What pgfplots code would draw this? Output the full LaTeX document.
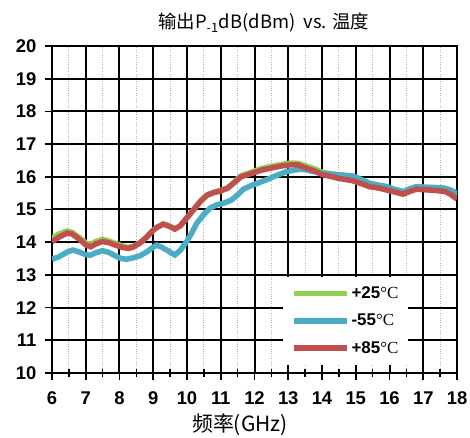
\documentclass[border=0pt]{standalone}
\usepackage{fontspec}
\setmainfont{Liberation Sans}
\newfontfamily\cjk{Noto Sans CJK SC}
\newfontfamily\serifC{Liberation Serif}
\usepackage{pgfplots}
\pgfplotsset{compat=1.18}
\definecolor{cgreen}{RGB}{146,208,80}
\definecolor{cblue}{RGB}{75,172,198}
\definecolor{cred}{RGB}{192,80,77}
\begin{document}
\begin{tikzpicture}
\useasboundingbox (-52bp,-65bp) rectangle (418bp,373bp);
\begin{axis}[
  at={(0,0)}, anchor=south west,
  scale only axis, width=405bp, height=327bp,
  xmin=6, xmax=18, ymin=10, ymax=20,
  xtick={6,...,18}, ytick={10,...,20},
  minor x tick num=1,
  xmajorgrids, ymajorgrids, xminorgrids,
  major grid style={black, line width=2bp},
  minor grid style={gray!60, dotted, line width=1bp},
  axis line style={black, line width=2bp},
  tick pos=left,
  tick align=center,
  major tick length=14bp,
  minor tick length=8bp,
  every tick/.style={black, line width=1.7bp},
  /pgf/number format/assume math mode=true,
  tick label style={font=\bfseries\fontsize{18.5}{20}\selectfont},
  xticklabel style={yshift=-8bp},
  yticklabel style={xshift=-5bp},
  title={\cjk 输出P\textsubscript{-1}dB(dBm)\ \ vs. 温度},
  title style={font=\fontsize{18.5}{21}\selectfont, at={(0.523,1)}, anchor=south, yshift=4bp},
  xlabel={\cjk 频率(GHz)},
  xlabel style={font=\fontsize{21}{23}\selectfont, at={(0.464,0)}, anchor=north, yshift=-37bp},
  legend style={at={(0.570,0.0245)}, anchor=south west, draw=none, fill=white,
    font=\bfseries\fontsize{17}{20}\selectfont, inner xsep=8bp, inner ysep=8bp,
    row sep=10bp},
  legend cell align=left,
  legend image code/.code={\draw[#1, line width=5.5bp] (0bp,0bp) -- (53bp,0bp);},
]
\addplot[cgreen, line width=5.5bp] coordinates {
(6.0,14.12) (6.2,14.25) (6.45,14.34) (6.6,14.3) (6.8,14.15) (7.0,13.98) (7.15,13.93)
(7.3,14.02) (7.5,14.09) (7.7,14.03) (7.9,13.95) (8.1,13.88) (8.25,13.84) (8.4,13.87)
(8.6,13.98) (8.8,14.15) (8.95,14.32) (9.1,14.45) (9.3,14.56) (9.45,14.5) (9.64,14.41)
(9.8,14.5) (10.0,14.75) (10.2,15.0) (10.4,15.26) (10.6,15.45) (10.8,15.53) (11.0,15.58)
(11.2,15.66) (11.4,15.84) (11.6,16.03) (11.9,16.14) (12.2,16.25) (12.5,16.32) (12.8,16.38)
(13.1,16.42) (13.3,16.41) (13.5,16.34) (13.8,16.24) (14.0,16.14) (14.3,16.08) (14.5,16.05)
(14.9,16.02) (15.2,15.88) (15.4,15.8) (15.7,15.72) (15.9,15.7) (16.1,15.63) (16.4,15.54)
(16.6,15.62) (16.8,15.68) (17.1,15.67) (17.4,15.66) (17.65,15.64) (17.8,15.58) (18.0,15.45)
};
\addlegendentry{+25{\serifC\mdseries °C}}
\addplot[cblue, line width=5.5bp] coordinates {
(6.0,13.48) (6.2,13.55) (6.45,13.7) (6.62,13.76) (6.8,13.7) (7.0,13.62) (7.13,13.6)
(7.3,13.68) (7.5,13.74) (7.7,13.68) (7.9,13.57) (8.05,13.5) (8.2,13.48) (8.4,13.52)
(8.6,13.58) (8.8,13.7) (9.0,13.85) (9.1,13.91) (9.25,13.85) (9.4,13.76) (9.55,13.66)
(9.64,13.61) (9.8,13.75) (9.99,14.02) (10.15,14.3) (10.29,14.58) (10.5,14.85) (10.68,15.04)
(10.9,15.15) (11.08,15.19) (11.32,15.29) (11.5,15.45) (11.67,15.62) (11.9,15.73) (12.16,15.83)
(12.4,15.93) (12.56,16.0) (12.8,16.1) (12.95,16.16) (13.15,16.2) (13.35,16.23) (13.5,16.22)
(13.8,16.15) (14.04,16.1) (14.3,16.08) (14.53,16.06) (14.93,16.02) (15.2,15.9) (15.42,15.8)
(15.7,15.74) (15.92,15.7) (16.1,15.63) (16.41,15.55) (16.6,15.63) (16.8,15.7) (17.1,15.68)
(17.4,15.67) (17.64,15.65) (17.8,15.6) (18.0,15.5)
};
\addlegendentry{-55{\serifC\mdseries °C}}
\addplot[cred, line width=5.5bp] coordinates {
(6.0,14.02) (6.2,14.15) (6.45,14.28) (6.6,14.25) (6.8,14.1) (7.0,13.92) (7.15,13.86)
(7.3,13.95) (7.5,14.02) (7.7,13.98) (7.9,13.9) (8.1,13.84) (8.25,13.81) (8.4,13.85)
(8.6,13.97) (8.8,14.15) (8.95,14.32) (9.1,14.45) (9.3,14.55) (9.45,14.5) (9.64,14.4)
(9.8,14.5) (10.0,14.75) (10.2,15.0) (10.4,15.25) (10.6,15.44) (10.8,15.52) (11.0,15.57)
(11.2,15.65) (11.4,15.82) (11.6,16.0) (11.9,16.1) (12.2,16.2) (12.5,16.27) (12.8,16.33)
(13.1,16.37) (13.3,16.36) (13.5,16.28) (13.8,16.17) (14.0,16.07) (14.3,16.0) (14.5,15.95)
(14.9,15.88) (15.2,15.78) (15.4,15.7) (15.7,15.65) (15.9,15.6) (16.1,15.55) (16.4,15.47)
(16.6,15.55) (16.8,15.62) (17.1,15.6) (17.4,15.58) (17.65,15.55) (17.8,15.47) (18.0,15.32)
};
\addlegendentry{+85{\serifC\mdseries °C}}
\end{axis}
\end{tikzpicture}
\end{document}
